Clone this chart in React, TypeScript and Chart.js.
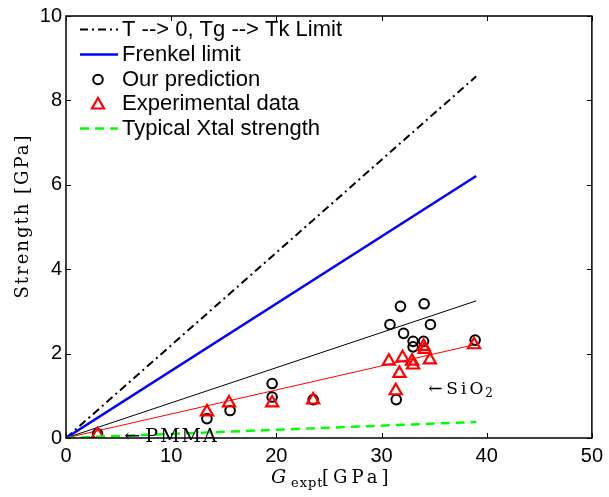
import React, { useEffect, useRef } from "react";
import { Chart, registerables } from "chart.js";

Chart.register(...registerables);

// ---- data ----
const X_TICKS = [0, 10, 20, 30, 40, 50];
const Y_TICKS = [0, 2, 4, 6, 8, 10];

const LINE_G = [0, 39];
const TK_LIMIT = [0, 8.57];
const FRENKEL = [0, 6.21];
const PRED_FIT = [0, 3.25];
const EXPT_FIT = [0, 2.22];
const XTAL = [0, 0.38];

const PRED_G = [3.0, 13.4, 15.6, 19.6, 19.6, 23.5, 30.8, 31.4, 31.8, 32.1, 33.0, 33.0, 34.0, 34.05, 34.65, 38.9];
const PRED_S = [0.1, 0.46, 0.65, 0.97, 1.29, 0.91, 2.69, 0.91, 3.12, 2.48, 2.29, 2.16, 2.29, 3.18, 2.69, 2.32];

const EXPT_G = [3.0, 13.4, 15.5, 19.6, 23.5, 30.7, 31.35, 31.7, 32.0, 32.9, 33.0, 34.0, 34.1, 34.6, 38.8];
const EXPT_S = [0.08, 0.62, 0.83, 0.83, 0.9, 1.82, 1.12, 1.53, 1.9, 1.82, 1.73, 2.17, 2.1, 1.85, 2.21];

const LEGEND_LABELS = [
  "T --> 0, Tg --> Tk Limit",
  "Frenkel limit",
  "Our prediction",
  "Experimental data",
  "Typical Xtal strength",
];

// annotation anchors in data units [G, S]
const PMMA_AT = [5.55, -0.09];
const SIO2_AT = [34.45, 1.05];

const SANS = "'Liberation Sans', Arial, sans-serif";
const SERIF = "'DejaVu Serif', 'Liberation Serif', serif";

const DASHDOT = [8, 4, 2, 4];
const GREEN_DASH = [9, 6];

function drawCircle(ctx: CanvasRenderingContext2D, x: number, y: number, r: number, color: string, w: number) {
  ctx.save();
  ctx.beginPath();
  ctx.arc(x, y, r, 0, Math.PI * 2);
  ctx.strokeStyle = color;
  ctx.lineWidth = w;
  ctx.stroke();
  ctx.restore();
}

function drawTriangle(ctx: CanvasRenderingContext2D, x: number, y: number, r: number, color: string, w: number) {
  ctx.save();
  ctx.beginPath();
  ctx.moveTo(x, y - r);
  ctx.lineTo(x + 0.866 * r, y + 0.5 * r);
  ctx.lineTo(x - 0.866 * r, y + 0.5 * r);
  ctx.closePath();
  ctx.strokeStyle = color;
  ctx.lineWidth = w;
  ctx.stroke();
  ctx.restore();
}

function spaced(ctx: CanvasRenderingContext2D, px: string) {
  (ctx as any).letterSpacing = px;
}

const decorPlugin = {
  id: "decor",
  afterDraw(chart: any) {
    const ctx: CanvasRenderingContext2D = chart.ctx;
    const { left, right, top, bottom } = chart.chartArea;
    const xs = chart.scales.x;
    const ys = chart.scales.y;

    // frame
    ctx.save();
    ctx.strokeStyle = "#000";
    ctx.lineWidth = 1.5;
    ctx.strokeRect(left, top, right - left, bottom - top);
    // inward ticks
    ctx.lineWidth = 1;
    const tl = 5;
    ctx.beginPath();
    X_TICKS.forEach((v) => {
      const px = Math.round(xs.getPixelForValue(v)) + 0.5;
      ctx.moveTo(px, bottom);
      ctx.lineTo(px, bottom - tl);
      ctx.moveTo(px, top);
      ctx.lineTo(px, top + tl);
    });
    Y_TICKS.forEach((v) => {
      const py = Math.round(ys.getPixelForValue(v)) + 0.5;
      ctx.moveTo(left, py);
      ctx.lineTo(left + tl, py);
      ctx.moveTo(right, py);
      ctx.lineTo(right - tl, py);
    });
    ctx.stroke();
    ctx.restore();

    // legend
    ctx.save();
    const rows = [29.5, 54.5, 79.5, 104, 128.5];
    const x0 = 80, x1 = 118, xm = 98, tx = 122;
    ctx.lineCap = "butt";
    ctx.beginPath();
    ctx.setLineDash(DASHDOT);
    ctx.strokeStyle = "#000";
    ctx.lineWidth = 2;
    ctx.moveTo(x0, rows[0]);
    ctx.lineTo(x1, rows[0]);
    ctx.stroke();
    ctx.beginPath();
    ctx.setLineDash([]);
    ctx.strokeStyle = "#0000ff";
    ctx.lineWidth = 2.5;
    ctx.moveTo(x0, rows[1]);
    ctx.lineTo(x1, rows[1]);
    ctx.stroke();
    drawCircle(ctx, xm, rows[2], 4.8, "#000", 2);
    drawTriangle(ctx, xm, rows[3] + 1, 7, "#ff0000", 2.2);
    ctx.beginPath();
    ctx.setLineDash(GREEN_DASH);
    ctx.strokeStyle = "#00ff00";
    ctx.lineWidth = 2.5;
    ctx.moveTo(x0, rows[4]);
    ctx.lineTo(x1, rows[4]);
    ctx.stroke();
    ctx.setLineDash([]);
    ctx.fillStyle = "#000";
    ctx.font = `22px ${SANS}`;
    ctx.textBaseline = "middle";
    ctx.textAlign = "left";
    LEGEND_LABELS.forEach((t, i) => ctx.fillText(t, tx, rows[i]));
    ctx.restore();

    // annotations
    ctx.save();
    ctx.fillStyle = "#000";
    ctx.textBaseline = "alphabetic";
    ctx.textAlign = "left";
    {
      const ax = xs.getPixelForValue(PMMA_AT[0]);
      const ay = ys.getPixelForValue(PMMA_AT[1]);
      ctx.font = `19px ${SERIF}`;
      ctx.fillText("←", ax, ay);
      spaced(ctx, "2px");
      ctx.fillText("PMMA", ax + 21, ay);
      spaced(ctx, "0px");
    }
    {
      const ax = xs.getPixelForValue(SIO2_AT[0]);
      const ay = ys.getPixelForValue(SIO2_AT[1]);
      ctx.font = `17px ${SERIF}`;
      ctx.fillText("←", ax, ay);
      spaced(ctx, "3px");
      ctx.fillText("SiO", ax + 18, ay);
      spaced(ctx, "0px");
      ctx.font = `12px ${SERIF}`;
      ctx.fillText("2", ax + 57, ay + 3);
    }
    ctx.restore();

    // axis titles
    ctx.save();
    ctx.fillStyle = "#000";
    ctx.textBaseline = "alphabetic";
    ctx.textAlign = "left";
    const bx = 271;
    const by = 483;
    ctx.font = `italic 19px ${SERIF}`;
    ctx.fillText("G", bx, by);
    ctx.font = `13px ${SERIF}`;
    spaced(ctx, "1px");
    ctx.fillText("expt", bx + 20, by + 4);
    ctx.font = `18px ${SERIF}`;
    spaced(ctx, "4px");
    ctx.fillText("[GPa]", bx + 51, by);
    // y title
    ctx.translate(28, 216);
    ctx.rotate(-Math.PI / 2);
    spaced(ctx, "2px");
    ctx.textAlign = "center";
    ctx.fillText("Strength [GPa]", 0, 0);
    spaced(ctx, "0px");
    ctx.restore();
  },
};

export default function App() {
  const ref = useRef<HTMLCanvasElement | null>(null);
  useEffect(() => {
    if (!ref.current) return;
    const pts = (gs: number[], ss: number[]) => gs.map((g, i) => ({ x: g, y: ss[i] }));
    const lineDs = (ys: number[], color: string, width: number, dash: number[], order: number) => ({
      data: pts(LINE_G, ys),
      showLine: true,
      borderColor: color,
      backgroundColor: color,
      borderWidth: width,
      borderDash: dash,
      pointRadius: 0,
      pointHoverRadius: 0,
      order,
    });
    const chart = new Chart(ref.current, {
      type: "scatter",
      data: {
        datasets: [
          lineDs(XTAL, "#00ff00", 2.5, GREEN_DASH, 1),
          {
            data: pts(EXPT_G, EXPT_S),
            pointStyle: "triangle",
            pointRadius: 7,
            pointBorderWidth: 2.2,
            borderColor: "#ff0000",
            backgroundColor: "rgba(0,0,0,0)",
            showLine: false,
            order: 2,
          } as any,
          {
            data: pts(PRED_G, PRED_S),
            pointStyle: "circle",
            pointRadius: 4.8,
            pointBorderWidth: 2,
            borderColor: "#000",
            backgroundColor: "rgba(0,0,0,0)",
            showLine: false,
            order: 3,
          } as any,
          lineDs(EXPT_FIT, "#ff0000", 1, [], 4),
          lineDs(PRED_FIT, "#000000", 1, [], 5),
          lineDs(FRENKEL, "#0000ff", 2.5, [], 6),
          lineDs(TK_LIMIT, "#000000", 2, DASHDOT, 7),
        ] as any,
      },
      options: {
        responsive: false,
        animation: false,
        events: [],
        layout: { padding: { left: 0, top: 10, right: 12, bottom: 0 } },
        plugins: {
          legend: { display: false },
          tooltip: { enabled: false },
          title: { display: false },
        },
        scales: {
          x: {
            type: "linear",
            min: 0,
            max: 50,
            afterBuildTicks: (s: any) => {
              s.ticks = X_TICKS.map((v) => ({ value: v }));
            },
            afterFit: (s: any) => {
              s.height = 59;
            },
            grid: { display: false, drawTicks: false },
            border: { display: false },
            ticks: {
              padding: 6,
              color: "#000",
              font: { family: SANS, size: 20 },
              maxRotation: 0,
              autoSkip: false,
            },
          },
          y: {
            type: "linear",
            min: 0,
            max: 10,
            afterBuildTicks: (s: any) => {
              s.ticks = Y_TICKS.map((v) => ({ value: v }));
            },
            afterFit: (s: any) => {
              s.width = 66;
            },
            grid: { display: false, drawTicks: false },
            border: { display: false },
            ticks: {
              padding: 4,
              color: "#000",
              font: { family: SANS, size: 20 },
              autoSkip: false,
            },
          },
        },
      } as any,
      plugins: [decorPlugin as any],
    });
    return () => chart.destroy();
  }, []);
  return (
    <div style={{ position: "fixed", left: 0, top: 0, width: 609, height: 497, background: "#fff" }}>
      <canvas ref={ref} width={609} height={497} style={{ display: "block", width: 609, height: 497 }} />
    </div>
  );
}
